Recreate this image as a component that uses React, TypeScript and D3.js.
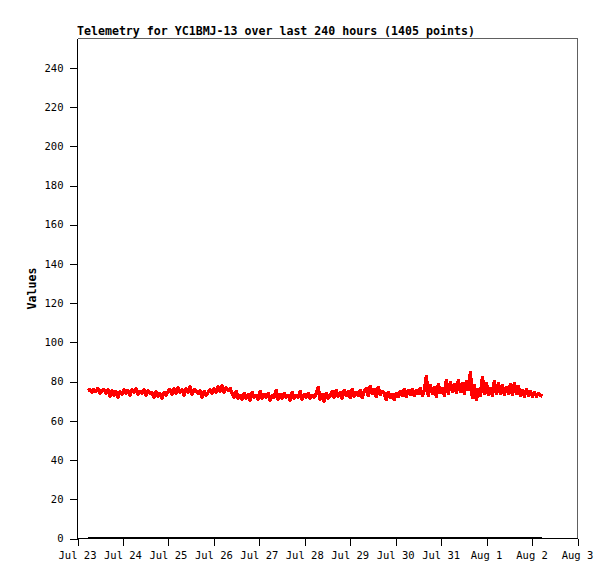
import React from "react";
import * as d3 from "d3";

const titleText = "Telemetry for YC1BMJ-13 over last 240 hours (1405 points)";
const yLabel = "Values";
const yTicks = [0, 20, 40, 60, 80, 100, 120, 140, 160, 180, 200, 220, 240];
const xTickLabels = ["Jul 23", "Jul 24", "Jul 25", "Jul 26", "Jul 27", "Jul 28", "Jul 29", "Jul 30", "Jul 31", "Aug 1", "Aug 2", "Aug 3"];
const xDomainStart = Date.UTC(2024, 6, 23, 0, 0);
const xDomainEnd = Date.UTC(2024, 7, 3, 0, 0);
const seriesStart = Date.UTC(2024, 6, 23, 5, 30);
const seriesHours = 240;

// channel 1 readings (sampled from the plot)
const channel1 = [
  75.5, 76, 74.5, 76, 75, 76.5, 74, 75.5, 76,
  74, 76, 72.5, 75.5, 73, 75, 72,
  75, 73.5, 76, 74, 75.5, 73, 76, 74.5, 76.5, 73.5, 75, 74, 76, 73, 75.5, 74,
  74.5, 72, 75, 72.5, 74, 71.5, 74.5, 73, 75,
  76, 73.5, 76.5, 74, 77, 74.5, 76, 73, 76.5, 74.5, 77.5, 73.5, 76, 75, 74,
  75.5, 72, 75, 73, 74.5,
  76, 74,
  76.5, 74.5, 77.5, 75, 78, 74.5, 77, 75.5, 76.5,
  74, 72, 75, 71.5,
  73, 71, 74, 71.5, 73.5, 70.5, 74.5, 72, 73, 71, 75, 71.5, 73.5, 72, 74, 70.5, 73, 72, 75.5, 71,
  73.5, 71.5, 74, 72, 73, 70.5, 74.5, 71.5, 73, 72, 75, 71, 73.5, 72, 74, 71.5, 73, 72,
  74, 77, 71, 73.5, 70, 74, 71.5, 73,
  75, 72, 75.5, 72.5, 74.5, 71.5, 75.5, 73, 75, 72, 76, 72.5, 74.5, 73, 75.5, 72, 75,
  76.5, 73, 77.5, 74, 76, 72.5, 77, 73.5, 75,
  74, 71, 74.5, 72, 73.5, 71, 74, 72.5,
  75, 73, 76, 72.5, 75.5, 73.5, 76, 73, 75.5, 74, 76.5, 73, 75.5,
  82.5,
  73, 78, 74, 77, 72.5, 78.5, 74.5, 76.5, 73,
  80.5, 74, 79.5, 75,
  78.5, 74.5, 80.5, 75, 79, 74, 80, 76,
  84.5,
  72, 78, 71, 76, 73,
  82, 74, 79,
  73.5, 76.5, 73,
  80, 74, 79,
  74, 78, 73.5, 77, 74, 78.5, 73.5,
  79, 74, 77.5,
  73, 75.5, 72.5, 76, 73, 75, 72.5,
  74.5, 72.5, 74, 73, 72.5,
];

// channel 2 readings (flat at zero across the window)
const channel2 = [0, 0];

const W = 615;
const H = 579;
const M = { left: 77.5, right: 577.5, top: 38.5, bottom: 538.5 };

export default function App() {
  const x = d3.scaleUtc().domain([xDomainStart, xDomainEnd]).range([M.left, M.right]);
  const y = d3.scaleLinear().domain([0, 255]).range([M.bottom, M.top]);
  const hourMs = 3600 * 1000;
  const n1 = channel1.length;
  const t1 = channel1.map((_, i) => seriesStart + (i / (n1 - 1)) * seriesHours * hourMs);
  const t2 = channel2.map((_, i) => seriesStart + (i / (channel2.length - 1)) * seriesHours * hourMs);

  const line = d3.line<[number, number]>().x((d) => x(d[0])).y((d) => y(d[1]));
  const path1 = line(channel1.map((v, i) => [t1[i], v] as [number, number])) || "";
  const path2 = line(channel2.map((v, i) => [t2[i], v] as [number, number])) || "";

  const xTicks = d3.utcDay.range(new Date(xDomainStart), new Date(xDomainEnd + 1));
  const font = "'DejaVu Sans Mono', 'Liberation Mono', monospace";

  return (
    <svg width={W} height={H} style={{ position: "absolute", left: 0, top: 0, background: "#fff" }}>
      <rect x={0} y={0} width={W} height={H} fill="#fff" />
      <line x1={M.left} x2={M.right} y1={M.top} y2={M.top} stroke="#606060" strokeWidth={1} shapeRendering="crispEdges" />
      <line x1={M.right} x2={M.right} y1={M.top} y2={M.bottom} stroke="#606060" strokeWidth={1} shapeRendering="crispEdges" />
      <line x1={M.left} x2={M.left} y1={M.top} y2={M.bottom} stroke="#000" strokeWidth={1} shapeRendering="crispEdges" />
      <line x1={M.left} x2={M.right} y1={M.bottom} y2={M.bottom} stroke="#000" strokeWidth={1} shapeRendering="crispEdges" />
      {yTicks.map((t) => (
        <g key={"y" + t}>
          <line x1={M.left - 8} x2={M.left} y1={Math.round(y(t)) + 0.5} y2={Math.round(y(t)) + 0.5} stroke="#000" shapeRendering="crispEdges" />
          <text x={M.left - 14} y={y(t)} dy="0.35em" textAnchor="end" fontFamily={font} fontSize={10.5} fill="#000">
            {t}
          </text>
        </g>
      ))}
      {xTicks.map((d, i) => (
        <g key={"x" + i}>
          <line x1={Math.round(x(d)) + 0.5} x2={Math.round(x(d)) + 0.5} y1={M.bottom} y2={M.bottom + 7} stroke="#000" shapeRendering="crispEdges" />
          <text x={x(d)} y={M.bottom + 20} textAnchor="middle" fontFamily={font} fontSize={10.5} fill="#000">
            {xTickLabels[i]}
          </text>
        </g>
      ))}
      <g transform="translate(0,-1)">
        <path d={path2} fill="none" stroke="#000" strokeWidth={2} shapeRendering="crispEdges" />
      </g>
      <path d={path1} fill="none" stroke="#ff0000" strokeWidth={3.5} strokeLinejoin="round" shapeRendering="crispEdges" />
      <text x={M.left - 0.5} y={35} fontFamily={font} fontWeight="bold" fontSize={11.6} fill="#000">
        {titleText}
      </text>
      <text transform={`translate(36,${(M.top + M.bottom) / 2}) rotate(-90)`} textAnchor="middle" fontFamily={font} fontWeight="bold" fontSize={11.6} fill="#000">
        {yLabel}
      </text>
    </svg>
  );
}
